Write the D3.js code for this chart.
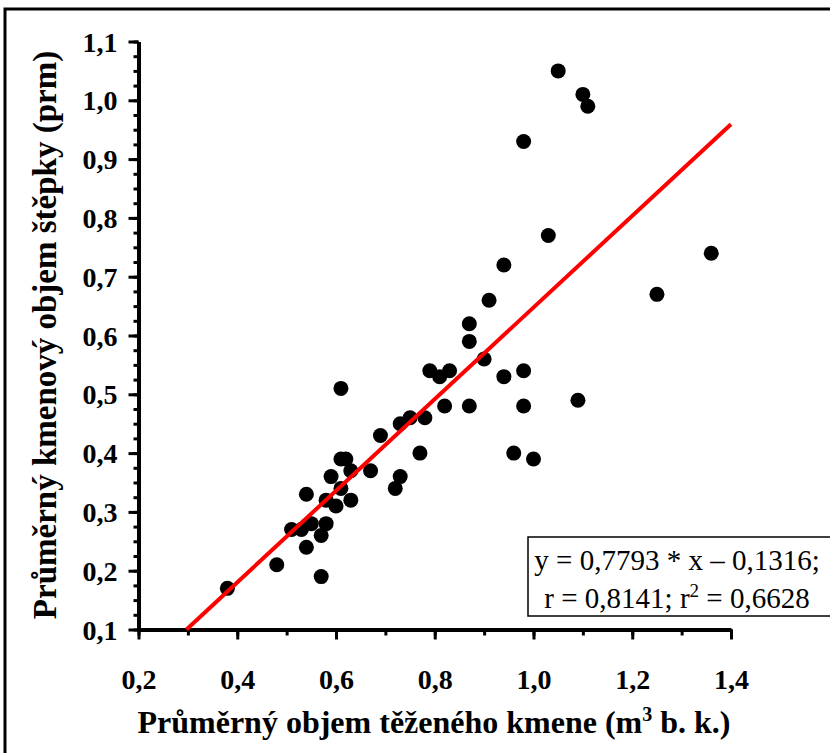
<!DOCTYPE html>
<html>
<head>
<meta charset="utf-8">
<script src="https://cdn.jsdelivr.net/npm/d3@7"></script>
<style>
  html, body { margin: 0; padding: 0; background: #fff; }
  svg { display: block; }
</style>
</head>
<body>
<div id="chart"></div>
<script>
// ---- data ----
const xValues = [0.38,0.48,0.51,0.53,0.54,0.54,0.55,0.57,0.57,0.58,0.58,0.59,0.60,0.61,0.61,0.61,0.62,0.63,0.63,0.67,0.69,0.72,0.73,0.73,0.75,0.77,0.78,0.79,0.81,0.83,0.82,0.87,0.87,0.87,0.90,0.91,0.94,0.94,0.96,0.98,0.98,0.98,1.00,1.03,1.05,1.09,1.10,1.11,1.25,1.36];
const yValues = [0.17,0.21,0.27,0.27,0.33,0.24,0.28,0.19,0.26,0.28,0.32,0.36,0.31,0.34,0.51,0.39,0.39,0.37,0.32,0.37,0.43,0.34,0.36,0.45,0.46,0.40,0.46,0.54,0.53,0.54,0.48,0.48,0.59,0.62,0.56,0.66,0.72,0.53,0.40,0.54,0.48,0.93,0.39,0.77,1.05,0.49,1.01,0.99,0.67,0.74];
const xTicks = [0.2,0.4,0.6,0.8,1.0,1.2,1.4];
const xTickLabels = ["0,2","0,4","0,6","0,8","1,0","1,2","1,4"];
const yTicks = [0.1,0.2,0.3,0.4,0.5,0.6,0.7,0.8,0.9,1.0,1.1];
const yTickLabels = ["0,1","0,2","0,3","0,4","0,5","0,6","0,7","0,8","0,9","1,0","1,1"];
const regSlope = 0.7793;
const regIntercept = -0.1316;
const regXEnd = 1.4;
const statLine1 = "y = 0,7793 * x \u2013 0,1316;";
const statR = "r = 0,8141; r";
const statR2 = " = 0,6628";
const xTitle = "Průměrný objem těženého kmene (m";
const xTitleSup = "3";
const xTitleEnd = " b. k.)";
const yTitle = "Průměrný kmenový objem štěpky (prm)";

// ---- layout ----
const W = 830, H = 753;
const svg = d3.select("#chart").append("svg").attr("width", W).attr("height", H);
const serif = "'Liberation Serif','Times New Roman',serif";

svg.append("rect").attr("x", 5).attr("y", 9).attr("width", 840).attr("height", 770)
  .attr("fill", "none").attr("stroke", "#000").attr("stroke-width", 3);

const x = d3.scaleLinear().domain([0.2, 1.4]).range([138.5, 731]);
const y = d3.scaleLinear().domain([0.1, 1.1]).range([629.5, 41.5]);

// minor ticks
const yMinor = d3.range(0.1, 1.1001, 0.025).map(v => +v.toFixed(3));
const xMinor = d3.range(0.2, 1.4001, 0.1).map(v => +v.toFixed(2));

svg.append("g").attr("transform", `translate(${x(0.2)},0)`)
  .call(d3.axisLeft(y).tickValues(yMinor).tickSize(5).tickSizeOuter(0).tickFormat(""))
  .call(g => g.select(".domain").remove())
  .call(g => g.selectAll("line").attr("stroke", "#000").attr("stroke-width", 3));

svg.append("g").attr("transform", `translate(0,${y(0.1)})`)
  .call(d3.axisBottom(x).tickValues(xMinor).tickSize(6).tickSizeOuter(0).tickFormat(""))
  .call(g => g.select(".domain").remove())
  .call(g => g.selectAll("line").attr("stroke", "#000").attr("stroke-width", 3));

// major axes
const yAxis = svg.append("g").attr("transform", `translate(${x(0.2)},0)`)
  .call(d3.axisLeft(y).tickValues(yTicks).tickSize(10).tickSizeOuter(0).tickPadding(11)
    .tickFormat((d, i) => yTickLabels[i]));
yAxis.select(".domain").attr("stroke", "#000").attr("stroke-width", 4);
yAxis.selectAll("line").attr("stroke", "#000").attr("stroke-width", 3);
yAxis.selectAll("text").attr("font-family", serif).attr("font-weight", "bold")
  .attr("font-size", 28).attr("fill", "#000").attr("dy", "0.34em");

const xAxis = svg.append("g").attr("transform", `translate(0,${y(0.1)})`)
  .call(d3.axisBottom(x).tickValues(xTicks).tickSize(10).tickSizeOuter(0).tickPadding(30)
    .tickFormat((d, i) => xTickLabels[i]));
xAxis.select(".domain").attr("stroke", "#000").attr("stroke-width", 4);
xAxis.selectAll("line").attr("stroke", "#000").attr("stroke-width", 3);
xAxis.selectAll("text").attr("font-family", serif).attr("font-weight", "bold")
  .attr("font-size", 28).attr("fill", "#000");

// points
const pts = xValues.map((v, i) => ({ x: v, y: yValues[i] }));
svg.append("g").selectAll("circle").data(pts).join("circle")
  .attr("cx", d => x(d.x)).attr("cy", d => y(d.y)).attr("r", 7.5).attr("fill", "#000");

// regression line
const regXStart = (0.1 - regIntercept) / regSlope;
svg.append("line")
  .attr("x1", x(regXStart)).attr("y1", y(regSlope * regXStart + regIntercept))
  .attr("x2", x(regXEnd)).attr("y2", y(regSlope * regXEnd + regIntercept))
  .attr("stroke", "#ff0000").attr("stroke-width", 4);

// stats box
svg.append("rect").attr("x", 528).attr("y", 537).attr("width", 320).attr("height", 79)
  .attr("fill", "#fff").attr("stroke", "#000").attr("stroke-width", 1.5);
svg.append("text").attr("x", 677).attr("y", 570).attr("text-anchor", "middle")
  .attr("font-family", serif).attr("font-size", 29).attr("fill", "#000").text(statLine1);
const t2 = svg.append("text").attr("x", 677).attr("y", 608).attr("text-anchor", "middle")
  .attr("font-family", serif).attr("font-size", 29).attr("fill", "#000");
t2.append("tspan").text(statR);
t2.append("tspan").attr("dy", -11).attr("font-size", 19).text("2");
t2.append("tspan").attr("dy", 11).text(statR2);

// axis titles
const xt = svg.append("text").attr("x", 434).attr("y", 733).attr("text-anchor", "middle")
  .attr("font-family", serif).attr("font-weight", "bold").attr("font-size", 32).attr("fill", "#000");
xt.append("tspan").text(xTitle);
xt.append("tspan").attr("dy", -12).attr("font-size", 20).text(xTitleSup);
xt.append("tspan").attr("dy", 12).text(xTitleEnd);

svg.append("text").attr("transform", `translate(56,335) rotate(-90)`).attr("text-anchor", "middle")
  .attr("font-family", serif).attr("font-weight", "bold").attr("font-size", 33).attr("fill", "#000")
  .text(yTitle);
</script>
</body>
</html>
